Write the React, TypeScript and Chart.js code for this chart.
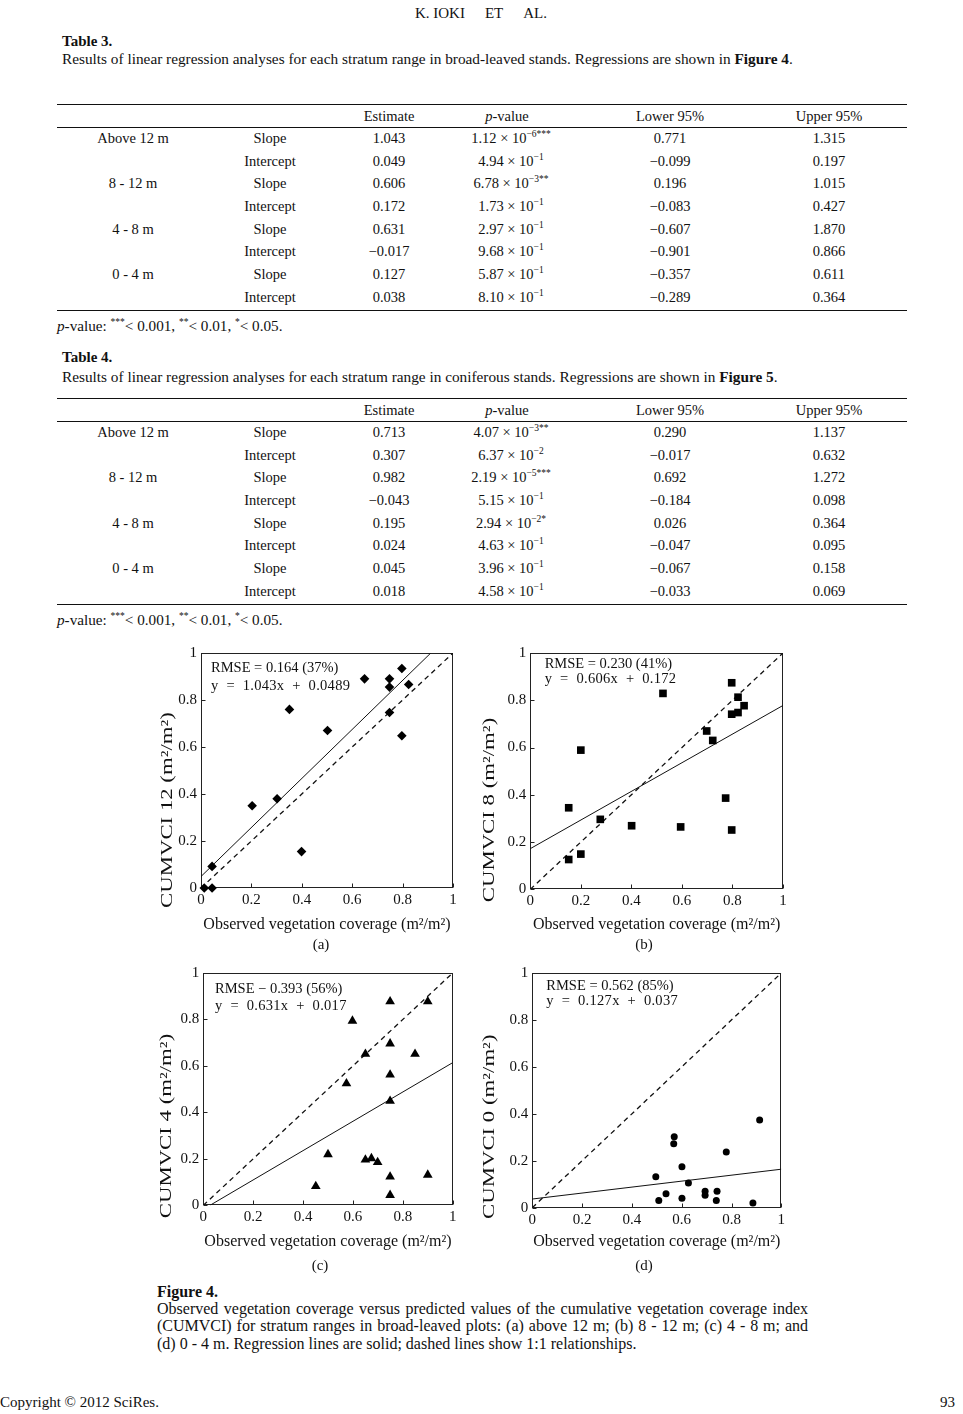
import React, { useEffect, useRef } from "react";
import { Chart, registerables } from "chart.js";
Chart.register(...registerables);

const FONT = '"Liberation Serif", "Times New Roman", serif';

// ---------- Table data ----------
const strata = ["Above 12 m", "8 - 12 m", "4 - 8 m", "0 - 4 m"];
const terms = ["Slope", "Intercept"];
const headers = ["Estimate", "p-value", "Lower 95%", "Upper 95%"];

const t3Estimate = ["1.043", "0.049", "0.606", "0.172", "0.631", "\u22120.017", "0.127", "0.038"];
const t3Mantissa = ["1.12", "4.94", "6.78", "1.73", "2.97", "9.68", "5.87", "8.10"];
const t3Exponent = ["\u22126", "\u22121", "\u22123", "\u22121", "\u22121", "\u22121", "\u22121", "\u22121"];
const t3Stars = ["***", "", "**", "", "", "", "", ""];
const t3Lower = ["0.771", "\u22120.099", "0.196", "\u22120.083", "\u22120.607", "\u22120.901", "\u22120.357", "\u22120.289"];
const t3Upper = ["1.315", "0.197", "1.015", "0.427", "1.870", "0.866", "0.611", "0.364"];

const t4Estimate = ["0.713", "0.307", "0.982", "\u22120.043", "0.195", "0.024", "0.045", "0.018"];
const t4Mantissa = ["4.07", "6.37", "2.19", "5.15", "2.94", "4.63", "3.96", "4.58"];
const t4Exponent = ["\u22123", "\u22122", "\u22125", "\u22121", "\u22122", "\u22121", "\u22121", "\u22121"];
const t4Stars = ["**", "", "***", "", "*", "", "", ""];
const t4Lower = ["0.290", "\u22120.017", "0.692", "\u22120.184", "0.026", "\u22120.047", "\u22120.067", "\u22120.033"];
const t4Upper = ["1.137", "0.632", "1.272", "0.098", "0.364", "0.095", "0.158", "0.069"];

// ---------- Figure data ----------
const tickValues = [0, 0.2, 0.4, 0.6, 0.8, 1];

const obsA = [0.013, 0.044, 0.044, 0.203, 0.302, 0.351, 0.399, 0.502, 0.649, 0.748, 0.748, 0.748, 0.797, 0.797, 0.824];
const predA = [0, 0, 0.092, 0.35, 0.38, 0.76, 0.155, 0.67, 0.89, 0.89, 0.855, 0.747, 0.934, 0.648, 0.866];
const slopeA = 1.043;
const interceptA = 0.0489;

const obsB = [0.152, 0.152, 0.2, 0.2, 0.277, 0.401, 0.525, 0.595, 0.698, 0.722, 0.773, 0.797, 0.797, 0.797, 0.822, 0.822, 0.846];
const predB = [0.126, 0.345, 0.149, 0.589, 0.296, 0.269, 0.829, 0.264, 0.67, 0.63, 0.386, 0.874, 0.741, 0.251, 0.813, 0.748, 0.777];
const slopeB = 0.606;
const interceptB = 0.172;

const obsC = [0.451, 0.5, 0.574, 0.598, 0.65, 0.65, 0.674, 0.699, 0.749, 0.749, 0.749, 0.749, 0.749, 0.749, 0.849, 0.9, 0.9];
const predC = [0.082, 0.219, 0.524, 0.794, 0.651, 0.196, 0.202, 0.185, 0.877, 0.696, 0.562, 0.449, 0.123, 0.044, 0.651, 0.877, 0.131];
const slopeC = 0.631;
const interceptC = -0.017;

const obsD = [0.496, 0.508, 0.537, 0.568, 0.57, 0.601, 0.601, 0.627, 0.694, 0.694, 0.742, 0.739, 0.779, 0.886, 0.913];
const predD = [0.132, 0.031, 0.059, 0.273, 0.302, 0.175, 0.04, 0.105, 0.07, 0.053, 0.07, 0.031, 0.237, 0.02, 0.374];
const slopeD = 0.127;
const interceptD = 0.037;

const xTitle = "Observed vegetation coverage (m\u00b2/m\u00b2)";

type PanelCfg = {
  obs: number[];
  pred: number[];
  slope: number;
  intercept: number;
  marker: string;
  radius: number;
  yTitle: string;
  rmse: string;
  eq: string;
  left: number;
  top: number;
  w: number;
  h: number;
  yAxisW: number;
  xAxisH: number;
  padTop: number;
  padRight: number;
  xTitlePad: number;
  yTitleX: number;
  yTitleY: number;
  textDx: number;
  textDy1: number;
  textDy2: number;
};

const panels: PanelCfg[] = [
  {
    obs: obsA, pred: predA, slope: slopeA, intercept: interceptA, marker: "rectRot", radius: 4.8,
    yTitle: "CUMVCI 12 (m\u00b2/m\u00b2)", rmse: "RMSE = 0.164 (37%)", eq: "y  =  1.043x  +  0.0489",
    left: 155, top: 640, w: 310, h: 300, yAxisW: 46, xAxisH: 52, padTop: 10, padRight: 12, xTitlePad: 5.5,
    yTitleX: 13, yTitleY: 170, textDx: 10, textDy1: 15, textDy2: 33,
  },
  {
    obs: obsB, pred: predB, slope: slopeB, intercept: interceptB, marker: "rect", radius: 5.4,
    yTitle: "CUMVCI 8 (m\u00b2/m\u00b2)", rmse: "RMSE = 0.230 (41%)", eq: "y  =  0.606x  +  0.172",
    left: 478, top: 640, w: 320, h: 300, yAxisW: 52.3, xAxisH: 50.7, padTop: 11.7, padRight: 15, xTitlePad: 5.5,
    yTitleX: 11.7, yTitleY: 170, textDx: 14.4, textDy1: 11, textDy2: 26.6,
  },
  {
    obs: obsC, pred: predC, slope: slopeC, intercept: interceptC, marker: "triangle", radius: 5.6,
    yTitle: "CUMVCI 4 (m\u00b2/m\u00b2)", rmse: "RMSE \u2212 0.393 (56%)", eq: "y  =  0.631x  +  0.017",
    left: 155, top: 960, w: 310, h: 300, yAxisW: 48.3, xAxisH: 54.7, padTop: 9.3, padRight: 12.3, xTitlePad: 8.7,
    yTitleX: 11.7, yTitleY: 166, textDx: 11.7, textDy1: 15.7, textDy2: 33.4,
  },
  {
    obs: obsD, pred: predD, slope: slopeD, intercept: interceptD, marker: "circle", radius: 3.5,
    yTitle: "CUMVCI 0 (m\u00b2/m\u00b2)", rmse: "RMSE = 0.562 (85%)", eq: "y  =  0.127x  +  0.037",
    left: 478, top: 960, w: 320, h: 300, yAxisW: 54.3, xAxisH: 52.3, padTop: 10, padRight: 16.7, xTitlePad: 8.7,
    yTitleX: 11.7, yTitleY: 166.7, textDx: 14, textDy1: 12.7, textDy2: 28.3,
  },
];

const panelLabels = [
  { t: "(a)", x: 321, y: 943 },
  { t: "(b)", x: 644, y: 943 },
  { t: "(c)", x: 320, y: 1264 },
  { t: "(d)", x: 644, y: 1264 },
];

function regressionEnds(m: number, b: number) {
  let x0 = 0;
  if (b < 0) x0 = -b / m;
  let x1 = 1;
  if (m + b > 1) x1 = (1 - b) / m;
  return [
    { x: x0, y: m * x0 + b },
    { x: x1, y: m * x1 + b },
  ];
}

function Panel({ cfg }: { cfg: PanelCfg }) {
  const ref = useRef<HTMLCanvasElement>(null);
  useEffect(() => {
    const points = cfg.obs.map((x, i) => ({ x, y: cfg.pred[i] }));
    const framePlugin = {
      id: "frame",
      beforeDatasetsDraw(chart: any) {
        const { ctx, chartArea } = chart;
        const l = Math.round(chartArea.left) + 0.5;
        const t = Math.round(chartArea.top) + 0.5;
        const r = Math.round(chartArea.right) - 0.5;
        const b = Math.round(chartArea.bottom) - 0.5;
        ctx.save();
        ctx.strokeStyle = "#222";
        ctx.lineWidth = 1;
        ctx.strokeRect(l, t, r - l, b - t);
        ctx.beginPath();
        const xs = chart.scales.x;
        const ys = chart.scales.y;
        tickValues.forEach((v) => {
          const px = Math.round(xs.getPixelForValue(v)) + 0.5;
          ctx.moveTo(px, b);
          ctx.lineTo(px, b - 4);
          const py = Math.round(ys.getPixelForValue(v)) + 0.5;
          ctx.moveTo(l, py);
          ctx.lineTo(l + 4, py);
        });
        ctx.stroke();
        ctx.restore();
      },
      afterDraw(chart: any) {
        const { ctx, chartArea } = chart;
        ctx.save();
        ctx.fillStyle = "#111";
        ctx.textBaseline = "middle";
        ctx.textAlign = "left";
        ctx.font = `14.5px ${FONT}`;
        ctx.fillText(cfg.rmse, chartArea.left + cfg.textDx, chartArea.top + cfg.textDy1);
        (ctx as any).letterSpacing = "0.3px";
        ctx.fillText(cfg.eq, chartArea.left + cfg.textDx, chartArea.top + cfg.textDy2);
        (ctx as any).letterSpacing = "0px";
        // y-axis title (stretched along its length like the source)
        ctx.translate(cfg.yTitleX, cfg.yTitleY);
        ctx.rotate(-Math.PI / 2);
        ctx.scale(1.38, 1);
        ctx.textAlign = "center";
        ctx.font = `16.5px ${FONT}`;
        ctx.fillText(cfg.yTitle, 0, 0);
        ctx.restore();
      },
    };

    const axisBase = {
      type: "linear" as const,
      min: 0,
      max: 1,
      grid: { display: false, drawTicks: false },
      border: { display: false },
    };

    const chart = new Chart(ref.current!, {
      type: "scatter",
      data: {
        datasets: [
          {
            data: points,
            pointStyle: cfg.marker as any,
            pointRadius: cfg.radius,
            backgroundColor: "#000",
            borderColor: "#000",
            borderWidth: 0,
            clip: false as any,
          },
          {
            data: regressionEnds(cfg.slope, cfg.intercept),
            showLine: true,
            pointRadius: 0,
            borderColor: "#111",
            borderWidth: 1,
            fill: false,
          },
          {
            data: [
              { x: tickValues[0], y: tickValues[0] },
              { x: tickValues[tickValues.length - 1], y: tickValues[tickValues.length - 1] },
            ],
            showLine: true,
            pointRadius: 0,
            borderColor: "#111",
            borderWidth: 1.3,
            borderDash: [5, 4],
            fill: false,
          },
        ],
      },
      options: {
        animation: false,
        responsive: false,
        events: [],
        layout: { padding: { left: 0, top: cfg.padTop, right: cfg.padRight, bottom: 0 } },
        plugins: { legend: { display: false }, tooltip: { enabled: false } },
        scales: {
          x: {
            ...axisBase,
            afterBuildTicks: (s: any) => {
              s.ticks = tickValues.map((v) => ({ value: v }));
            },
            afterFit: (s: any) => {
              s.height = cfg.xAxisH;
            },
            ticks: {
              callback: (v: any) => String(v),
              color: "#111",
              font: { family: FONT, size: 15 },
              padding: 3,
              maxRotation: 0,
              autoSkip: false,
            },
            title: {
              display: true,
              text: xTitle,
              color: "#111",
              font: { family: FONT, size: 16 },
              padding: { top: 0, bottom: cfg.xTitlePad },
            },
          },
          y: {
            ...axisBase,
            afterBuildTicks: (s: any) => {
              s.ticks = tickValues.map((v) => ({ value: v }));
            },
            afterFit: (s: any) => {
              s.width = cfg.yAxisW;
            },
            ticks: {
              callback: (v: any) => String(v),
              color: "#111",
              font: { family: FONT, size: 15 },
              padding: 4,
              autoSkip: false,
            },
          },
        },
      },
      plugins: [framePlugin],
    } as any);
    return () => chart.destroy();
  }, [cfg]);
  return (
    <canvas
      ref={ref}
      width={cfg.w}
      height={cfg.h}
      style={{ position: "absolute", left: cfg.left, top: cfg.top, width: cfg.w, height: cfg.h }}
    />
  );
}

// ---------- text helpers ----------
function T({
  x, y, children, size = 14.5, bold = false, align = "left", w = 400,
}: {
  x: number; y: number; children: React.ReactNode; size?: number; bold?: boolean; align?: string; w?: number;
}) {
  const style: React.CSSProperties = {
    position: "absolute",
    top: y - size * 0.55,
    fontSize: size,
    lineHeight: `${size * 1.2}px`,
    fontWeight: bold ? "bold" : "normal",
    whiteSpace: "nowrap",
    color: "#111",
  };
  if (align === "center") {
    style.left = x - w / 2;
    style.width = w;
    style.textAlign = "center";
  } else if (align === "right") {
    style.left = x - w;
    style.width = w;
    style.textAlign = "right";
  } else {
    style.left = x;
  }
  return <div style={style}>{children}</div>;
}

function Rule({ y, x1 = 57, x2 = 907 }: { y: number; x1?: number; x2?: number }) {
  return <div style={{ position: "absolute", left: x1, top: y, width: x2 - x1, height: 1.3, background: "#111" }} />;
}

const colX = [133, 270, 389, 507, 670, 829];

function Sup({ children }: { children: React.ReactNode }) {
  return <span style={{ fontSize: 9.5, position: "relative", top: -6 }}>{children}</span>;
}

function RegTable({
  top, est, man, exp, stars, lower, upper,
}: {
  top: number; est: string[]; man: string[]; exp: string[]; stars: string[]; lower: string[]; upper: string[];
}) {
  // top = y of top rule
  const headerY = top + 11.5;
  const rowY0 = top + 34;
  const rowStep = 22.67;
  const items: React.ReactNode[] = [];
  items.push(<Rule key="r1" y={top} />);
  items.push(<Rule key="r2" y={top + 23} />);
  items.push(<Rule key="r3" y={top + 206} />);
  headers.forEach((h, i) => {
    items.push(
      <T key={"h" + i} x={colX[i + 2]} y={headerY} align="center" w={160}>
        {i === 1 ? (
          <span>
            <i>p</i>-value
          </span>
        ) : (
          h
        )}
      </T>
    );
  });
  for (let r = 0; r < 8; r++) {
    const y = rowY0 + r * rowStep;
    if (r % 2 === 0) {
      items.push(
        <T key={"s" + r} x={colX[0]} y={y} align="center" w={160}>
          {strata[r / 2]}
        </T>
      );
    }
    items.push(
      <T key={"t" + r} x={colX[1]} y={y} align="center" w={120}>
        {terms[r % 2]}
      </T>
    );
    items.push(
      <T key={"e" + r} x={colX[2]} y={y} align="center" w={120}>
        {est[r]}
      </T>
    );
    items.push(
      <T key={"p" + r} x={colX[3] + 4} y={y} align="center" w={160}>
        {man[r]} × 10<Sup>{exp[r] + stars[r]}</Sup>
      </T>
    );
    items.push(
      <T key={"l" + r} x={colX[4]} y={y} align="center" w={120}>
        {lower[r]}
      </T>
    );
    items.push(
      <T key={"u" + r} x={colX[5]} y={y} align="center" w={120}>
        {upper[r]}
      </T>
    );
  }
  return <>{items}</>;
}

function Footnote({ y }: { y: number }) {
  return (
    <T x={57} y={y} size={15.2}>
      <i>p</i>-value: <Sup>***</Sup>&lt; 0.001, <Sup>**</Sup>&lt; 0.01, <Sup>*</Sup>&lt; 0.05.
    </T>
  );
}

function JustLine({ x, y, w, children, last = false }: { x: number; y: number; w: number; children: React.ReactNode; last?: boolean }) {
  const size = 16;
  return (
    <div
      style={{
        position: "absolute",
        left: x,
        top: y - size * 0.55,
        width: w,
        fontSize: size,
        lineHeight: `${size * 1.2}px`,
        textAlign: last ? "left" : "justify",
        textAlignLast: last ? "left" : "justify",
        whiteSpace: "nowrap",
        color: "#111",
      } as React.CSSProperties}
    >
      {children}
    </div>
  );
}

export default function App() {
  return (
    <div
      style={{
        position: "absolute",
        left: 0,
        top: 0,
        width: 963,
        height: 1414,
        overflow: "hidden",
        background: "#fff",
        fontFamily: FONT,
      }}
    >
      <T x={481} y={12} align="center" w={300} size={15}>
        K. IOKI<span style={{ marginLeft: 20 }}>ET</span>
        <span style={{ marginLeft: 20 }}>AL.</span>
      </T>

      <T x={62} y={40} bold size={15}>
        Table 3.
      </T>
      <T x={62} y={58} size={15.3}>
        Results of linear regression analyses for each stratum range in broad-leaved stands. Regressions are shown in{" "}
        <b>Figure 4</b>.
      </T>
      <RegTable top={104} est={t3Estimate} man={t3Mantissa} exp={t3Exponent} stars={t3Stars} lower={t3Lower} upper={t3Upper} />
      <Footnote y={325} />

      <T x={62} y={356} bold size={15}>
        Table 4.
      </T>
      <T x={62} y={376} size={15.3}>
        Results of linear regression analyses for each stratum range in coniferous stands. Regressions are shown in{" "}
        <b>Figure 5</b>.
      </T>
      <RegTable top={398} est={t4Estimate} man={t4Mantissa} exp={t4Exponent} stars={t4Stars} lower={t4Lower} upper={t4Upper} />
      <Footnote y={619} />

      {panels.map((p, i) => (
        <Panel key={i} cfg={p} />
      ))}
      {panelLabels.map((l) => (
        <T key={l.t} x={l.x} y={l.y} align="center" w={60} size={15}>
          {l.t}
        </T>
      ))}

      <T x={157} y={1291} bold size={16}>
        Figure 4.
      </T>
      <JustLine x={157} y={1308} w={651}>
        Observed vegetation coverage versus predicted values of the cumulative vegetation coverage index
      </JustLine>
      <JustLine x={157} y={1325} w={651}>
        (CUMVCI) for stratum ranges in broad-leaved plots: (a) above 12 m; (b) 8 - 12 m; (c) 4 - 8 m; and
      </JustLine>
      <JustLine x={157} y={1343} w={651} last>
        (d) 0 - 4 m. Regression lines are solid; dashed lines show 1:1 relationships.
      </JustLine>

      <T x={0} y={1401} size={15}>
        Copyright © 2012 SciRes.
      </T>
      <T x={955} y={1401} align="right" w={60} size={15}>
        93
      </T>
    </div>
  );
}
